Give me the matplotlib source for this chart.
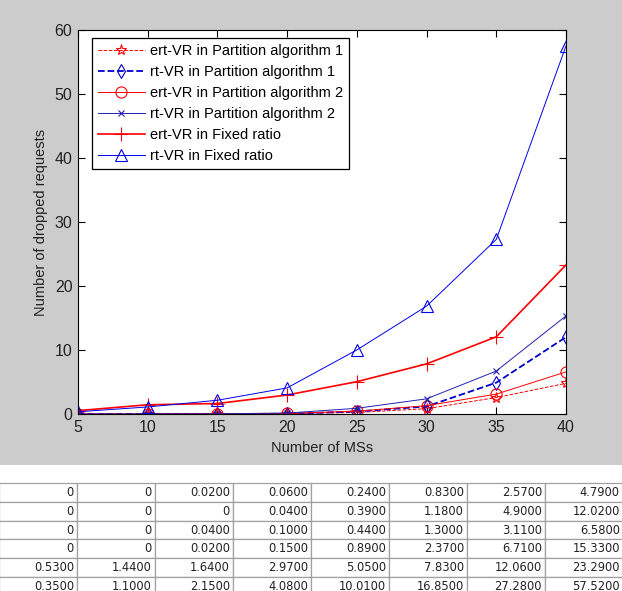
import matplotlib
matplotlib.use("Agg")
import matplotlib.pyplot as plt
from matplotlib.patches import Rectangle

plt.rcParams['font.family'] = ['Liberation Sans', 'DejaVu Sans']

ms = [5, 10, 15, 20, 25, 30, 35, 40]

ert_p1 = [0, 0, 0.02, 0.06, 0.24, 0.83, 2.57, 4.79]
rt_p1 = [0, 0, 0, 0.04, 0.39, 1.18, 4.90, 12.02]
ert_p2 = [0, 0, 0.04, 0.10, 0.44, 1.30, 3.11, 6.58]
rt_p2 = [0, 0, 0.02, 0.15, 0.89, 2.37, 6.71, 15.33]
ert_fix = [0.53, 1.44, 1.64, 2.97, 5.05, 7.83, 12.06, 23.29]
rt_fix = [0.35, 1.10, 2.15, 4.08, 10.01, 16.85, 27.28, 57.52]

labels = ['ert-VR in Partition algorithm 1', 'rt-VR in Partition algorithm 1',
          'ert-VR in Partition algorithm 2', 'rt-VR in Partition algorithm 2',
          'ert-VR in Fixed ratio', 'rt-VR in Fixed ratio']

fig = plt.figure(figsize=(6.22, 5.91), dpi=100)
fig.patch.set_facecolor('white')
# grey MATLAB figure area on top
fig.patches.append(Rectangle((0, (591 - 465) / 591), 1, 1, transform=fig.transFigure,
                             facecolor='#cccccc', edgecolor='none', zorder=-10))

ax = fig.add_axes([78 / 622, 177 / 591, 488 / 622, 384 / 591])
ax.plot(ms, ert_p1, color='red', ls='--', lw=0.7, marker='*', ms=8, mfc='none', mew=0.8, label=labels[0])
ax.plot(ms, rt_p1, color='#0000cc', ls='--', lw=1.3, marker='d', ms=7, mfc='none', mew=0.8, label=labels[1])
ax.plot(ms, ert_p2, color='red', ls='-', lw=0.7, marker='o', ms=8, mfc='none', mew=0.8, label=labels[2])
ax.plot(ms, rt_p2, color='#2020b0', ls='-', lw=0.7, marker='x', ms=4, mew=0.8, label=labels[3])
ax.plot(ms, ert_fix, color='red', ls='-', lw=1.2, marker='+', ms=10, mew=0.8, label=labels[4])
ax.plot(ms, rt_fix, color='#0000ee', ls='-', lw=0.7, marker='^', ms=8, mfc='none', mew=0.8, label=labels[5])

ax.set_xlim(5, 40)
ax.set_ylim(0, 60)
ax.set_xticks(ms)
ax.set_yticks(range(0, 61, 10))
ax.tick_params(direction='in', top=True, right=True, length=5, width=0.8,
               labelcolor='#222222', labelsize=11.5, pad=4)
for s in ax.spines.values():
    s.set_linewidth(0.8)
ax.set_xlabel('Number of MSs', fontsize=10.5, color='#222222', labelpad=5)
ax.set_ylabel('Number of dropped requests', fontsize=10.5, color='#222222', labelpad=5)

leg = ax.legend(loc='upper left', bbox_to_anchor=(14 / 488, 1 - 8 / 384), borderaxespad=0,
                fontsize=10.5, handlelength=3.2, handletextpad=0.4, labelspacing=0.48,
                fancybox=False, edgecolor='black', framealpha=1, borderpad=0.4)
leg.get_frame().set_linewidth(0.9)

# data table below
def fmt(v):
    return '0' if v == 0 else '%.4f' % v

rows = [ert_p1, rt_p1, ert_p2, rt_p2, ert_fix, rt_fix]
cell_text = [[fmt(v) for v in r] for r in rows]

tax = fig.add_axes([-1 / 622, (591 - 595.4) / 591, 624 / 622, 112.1 / 591])
tax.axis('off')
tbl = tax.table(cellText=cell_text, cellLoc='right', bbox=[0, 0, 1, 1])
tbl.auto_set_font_size(False)
tbl.set_fontsize(8.3)
for (r, c), cell in tbl.get_celld().items():
    cell.set_edgecolor('#a0a0a0')
    cell.set_linewidth(0.9)
    cell.PAD = 0.04
    cell.get_text().set_fontfamily('DejaVu Sans')
    cell.get_text().set_color('#222222')

fig.savefig('out.png', dpi=100, facecolor=fig.get_facecolor())
